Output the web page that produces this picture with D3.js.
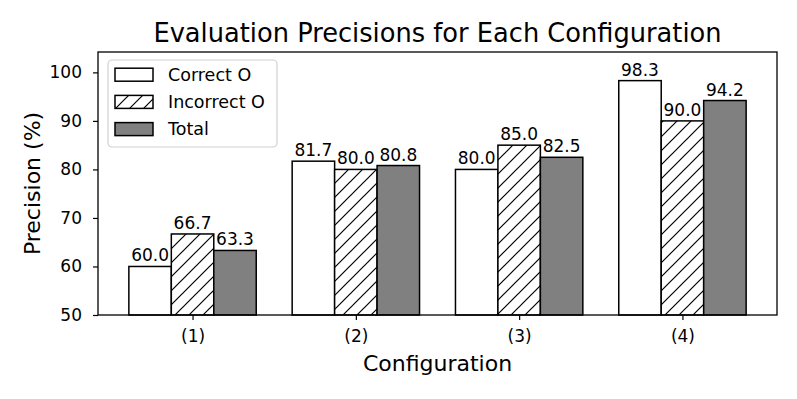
<!DOCTYPE html>
<html>
<head>
<meta charset="utf-8">
<script src="https://cdn.jsdelivr.net/npm/d3@7"></script>
<style>
  html, body { margin: 0; padding: 0; background: #fff; }
  svg { display: block; font-family: "DejaVu Sans", sans-serif; }
</style>
</head>
<body>
<div id="chart"></div>
<script>
const categories = ["(1)", "(2)", "(3)", "(4)"];
const seriesNames = ["Correct O", "Incorrect O", "Total"];
const correctO = [60.0, 81.7, 80.0, 98.3];
const incorrectO = [66.7, 80.0, 85.0, 90.0];
const total = [63.3, 80.8, 82.5, 94.2];
const yTicks = [50, 60, 70, 80, 90, 100];

const W = 797, H = 399;
const m = { left: 98, right: 777, top: 52, bottom: 315 };
const barW = 0.26;

const svg = d3.select("#chart").append("svg").attr("width", W).attr("height", H);

const defs = svg.append("defs");
const pat = defs.append("pattern").attr("id", "hatch").attr("patternUnits", "userSpaceOnUse")
  .attr("width", 14).attr("height", 14);
pat.append("rect").attr("width", 14).attr("height", 14).attr("fill", "#fff");
pat.append("path").attr("d", "M-1,15 L15,-1 M-8,8 L8,-8 M6,22 L22,6")
  .attr("stroke", "#000").attr("stroke-width", 1.2);

const x = d3.scaleLinear().domain([-0.579, 3.579]).range([m.left, m.right]);
const y = d3.scaleLinear().domain([50, 104.2]).range([m.bottom, m.top]);

const series = [
  { name: seriesNames[0], values: correctO, fill: "#ffffff", off: -1 },
  { name: seriesNames[1], values: incorrectO, fill: "url(#hatch)", off: 0 },
  { name: seriesNames[2], values: total, fill: "#808080", off: 1 }
];

const plot = svg.append("g");
series.forEach(s => {
  const g = plot.append("g");
  g.selectAll("rect").data(s.values).join("rect")
    .attr("x", (d, i) => x(i + s.off * barW - barW / 2))
    .attr("width", x(barW) - x(0))
    .attr("y", d => y(d))
    .attr("height", d => y(50) - y(d))
    .attr("fill", s.fill)
    .attr("stroke", "#000").attr("stroke-width", 1.5);
  g.selectAll("text").data(s.values).join("text")
    .attr("x", (d, i) => x(i + s.off * barW))
    .attr("y", d => y(d) - 5)
    .attr("text-anchor", "middle")
    .attr("font-size", 17)
    .attr("fill", "#000")
    .text(d => d.toFixed(1));
});

// axes
const xAxis = d3.axisBottom(x).tickValues(d3.range(categories.length))
  .tickFormat(i => categories[i]).tickSize(5).tickPadding(10);
const yAxis = d3.axisLeft(y).tickValues(yTicks).tickSize(5).tickPadding(11);

const gx = svg.append("g").attr("transform", `translate(0,${m.bottom})`).call(xAxis);
const gy = svg.append("g").attr("transform", `translate(${m.left},0)`).call(yAxis);
[gx, gy].forEach(g => {
  g.select(".domain").remove();
  g.selectAll("line").attr("stroke", "#000").attr("stroke-width", 1.2);
  g.selectAll("text").attr("font-size", 17).attr("fill", "#000").attr("font-family", "DejaVu Sans");
});

// frame
svg.append("rect").attr("x", m.left).attr("y", m.top)
  .attr("width", m.right - m.left).attr("height", m.bottom - m.top)
  .attr("fill", "none").attr("stroke", "#000").attr("stroke-width", 1.3);

// titles
svg.append("text").attr("x", (m.left + m.right) / 2).attr("y", 42)
  .attr("text-anchor", "middle").attr("font-size", 25.7).attr("fill", "#000")
  .text("Evaluation Precisions for Each Configuration");
svg.append("text").attr("x", (m.left + m.right) / 2).attr("y", 371)
  .attr("text-anchor", "middle").attr("font-size", 22).attr("fill", "#000")
  .text("Configuration");
svg.append("text").attr("transform", `translate(40,${(m.top + m.bottom) / 2}) rotate(-90)`)
  .attr("text-anchor", "middle").attr("font-size", 22).attr("fill", "#000")
  .text("Precision (%)");

// legend
const lg = svg.append("g");
lg.append("rect").attr("x", 108).attr("y", 60).attr("width", 169).attr("height", 87)
  .attr("rx", 4).attr("fill", "#fff").attr("fill-opacity", 0.8)
  .attr("stroke", "#d0d0d0").attr("stroke-width", 1.2);
series.forEach((s, i) => {
  const cy = 74.7 + i * 27.2;
  lg.append("rect").attr("x", 115).attr("y", cy - 6.5).attr("width", 38).attr("height", 13)
    .attr("fill", s.fill).attr("stroke", "#000").attr("stroke-width", 1.5);
  lg.append("text").attr("x", 168).attr("y", cy + 6.3).attr("font-size", 17.5).attr("fill", "#000")
    .text(s.name);
});
</script>
</body>
</html>
